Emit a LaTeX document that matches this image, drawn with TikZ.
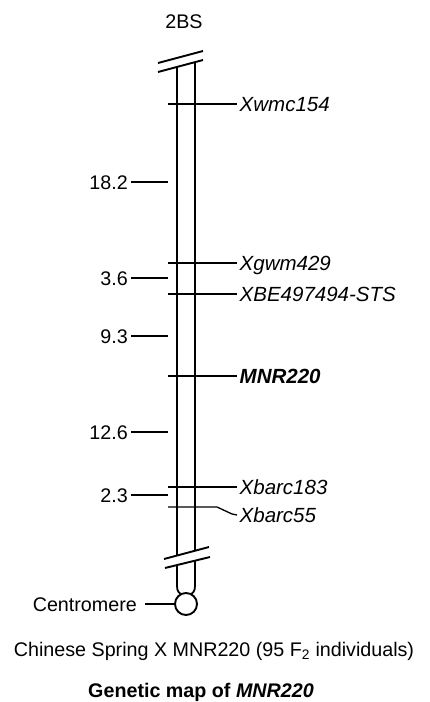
\documentclass[tikz,border=0pt]{standalone}
\usepackage{fontspec}
\setmainfont{Liberation Sans}
\begin{document}
\begin{tikzpicture}[x=1pt,y=-1pt,
  txt/.style={font=\fontsize{19.7}{22}\selectfont, inner sep=0pt},
  lab/.style={txt, font=\fontsize{20.5}{23}\selectfont\itshape, anchor=west, inner xsep=2.5pt, inner ysep=0pt, text height=14.5pt, text depth=0pt},
  num/.style={txt, anchor=east, inner xsep=3pt, inner ysep=0pt, text height=14pt, text depth=0pt},
  chrom/.style={line width=1.8pt},
  tick/.style={line width=1.3pt},
  brk/.style={line width=1.9pt}]
\useasboundingbox (0,0) rectangle (430,702);
% title
\node[txt] (ttl) at (184,22) {2BS};
% top break
\draw[brk] (158,63) -- (203,51);
\draw[brk] (158,72) -- (203,60);
% chromosome lines
\coordinate (lt) at (177,67);
\coordinate (rt) at (195,63);
\coordinate (lb) at (177,555);
\coordinate (rb) at (195,551);
\draw[chrom] (lt) -- (lb);
\draw[chrom] (rt) -- (rb);
% bottom break
\draw[brk] (164,559) -- (209,547);
\draw[brk] (165,568) -- (210,557);
% centromere
\node[circle, draw, line width=1.9pt, minimum size=22pt, inner sep=0pt] (cen) at (186,604) {};
\coordinate (lu) at (177,565);
\coordinate (ru) at (195,561);
\draw[chrom] (lu) -- (177,586) .. controls (177,591) and (179,593) .. (181,594.5);
\draw[chrom] (ru) -- (195,586) .. controls (195,591) and (193,593) .. (191,594.5);
\node[txt, anchor=east, inner xsep=0pt] (cenl) at (137,605) {Centromere};
\draw[chrom] (145,604) -- (cen.west);
% markers
\node[lab] (m1) at (237,104) {Xwmc154};
\draw[tick] (168,104) -- (m1.west);
\node[lab] (m2) at (237,263) {Xgwm429};
\draw[tick] (168,263) -- (m2.west);
\node[lab] (m3) at (237,294) {XBE497494-STS};
\draw[tick] (168,294) -- (m3.west);
\node[lab, font=\fontsize{20.5}{23}\selectfont\bfseries\itshape] (m4) at (237,376) {MNR220};
\draw[tick] (168,376) -- (m4.west);
\node[lab] (m5) at (237,487) {Xbarc183};
\draw[tick] (168,487) -- (m5.west);
\node[lab] (m6) at (237,515) {Xbarc55};
\draw[tick] (168,507) -- (217,507) -- (232,514) -- (m6.west);
% distances
\foreach \v/\y/\n in {18.2/182/d1, 3.6/278/d2, 9.3/336/d3, 12.6/432/d4, 2.3/495/d5}{
  \node[num] (\n) at (131,\y) {\v};
  \draw[tick] (\n.east) -- (168,\y);
}
% captions
\node[txt] (cap) at (214,651) {Chinese Spring X MNR220 (95 F\textsubscript{2} individuals)};
\node[txt, font=\fontsize{19.7}{22}\selectfont\bfseries] (gm) at (201,692) {Genetic map of \textit{MNR220}};
\end{tikzpicture}
\end{document}
